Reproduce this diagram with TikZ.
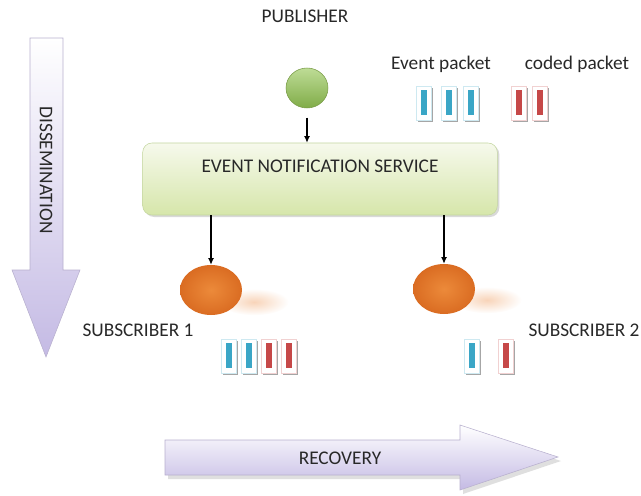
\documentclass[tikz,border=0pt]{standalone}
\usepackage{fontspec}
\setmainfont{Carlito}
\usetikzlibrary{positioning,shapes.geometric,shadows,arrows.meta}
\definecolor{lav}{RGB}{196,186,228}
\definecolor{lavline}{RGB}{184,176,206}
\definecolor{textgray}{RGB}{40,40,40}
\definecolor{pubtop}{RGB}{190,220,150}
\definecolor{pubbot}{RGB}{128,172,72}
\definecolor{publine}{RGB}{120,155,70}
\definecolor{orgin}{RGB}{236,138,58}
\definecolor{orgout}{RGB}{218,108,34}
\definecolor{peach}{RGB}{248,212,185}
\definecolor{enstop}{RGB}{246,249,236}
\definecolor{ensbot}{RGB}{214,230,170}
\definecolor{ensline}{RGB}{196,214,160}
\definecolor{pktblue}{RGB}{58,166,198}
\definecolor{pktred}{RGB}{198,72,72}
\tikzset{
  txt/.style={font=\fontsize{14.5}{17}\selectfont, text=textgray, inner sep=0pt},
  pubnode/.style={ellipse, minimum width=31.5pt, minimum height=30pt, top color=pubtop, bottom color=pubbot, draw=publine},
  subnode/.style={ellipse, minimum width=46.5pt, minimum height=37.5pt, shading=radial, inner color=orgin, outer color=orgout},
  shade blob/.style={shading=radial, inner color=peach, outer color=white},
  ensbox/.style={rectangle, rounded corners=7pt, minimum width=266pt, minimum height=54pt, top color=enstop, bottom color=ensbot, draw=ensline,
    drop shadow={shadow xshift=1.5pt, shadow yshift=-1.5pt, opacity=0.3}},
  packet/.style={rectangle, minimum width=11.25pt, minimum height=25.5pt, inner sep=0pt, fill=white, draw=#1!25,
    drop shadow={shadow xshift=1pt, shadow yshift=-1.5pt, fill=gray!70, opacity=1},
    path picture={\fill[#1] ([xshift=-2pt,yshift=-9pt]path picture bounding box.center) rectangle ([xshift=2pt,yshift=10pt]path picture bounding box.center);}},
  arr/.style={-{Latex[length=5pt,width=4.5pt]}, line width=0.8pt, black},
}
\begin{document}
\begin{tikzpicture}[x=0.75pt, y=-0.75pt]
  \useasboundingbox (0,0) rectangle (641,495);
  % Big arrows
  \draw[lavline, top color=white, bottom color=lav] (30,38) -- (63,38) -- (63,270) -- (80,270) -- (46,357) -- (12,270) -- (30,270) -- cycle;
  \node[txt, rotate=-90] (dissem) at (46,170) {DISSEMINATION};
  \fill[gray!25] (168,444) -- (463,444) -- (463,429) -- (561,461) -- (463,494) -- (463,479) -- (168,479) -- cycle;
  \draw[lavline, top color=white, bottom color=lav] (165,440) -- (460,440) -- (460,425) -- (558,457) -- (460,490) -- (460,475) -- (165,475) -- cycle;
  \node[txt] (recov) at (340,458) {RECOVERY};
  % Shadows of the subscribers
  \shade[shade blob] (254,302) ellipse [x radius=26pt, y radius=10pt];
  \shade[shade blob] (487,300) ellipse [x radius=26pt, y radius=10pt];
  % Nodes
  \node[txt] (publabel) at (305,16) {PUBLISHER};
  \node[pubnode] (pub) at (307,88) {};
  \node[ensbox] (ens) at (320,179) {};
  \node[txt] (enstext) at (320,166) {EVENT NOTIFICATION SERVICE};
  \node[subnode] (sub1) at (211,290) {};
  \node[subnode] (sub2) at (444,289) {};
  \node[txt] (sub1label) at (138,330) {SUBSCRIBER 1};
  \node[txt] (sub2label) at (584,330) {SUBSCRIBER 2};
  \node[txt] (evlabel) at (441,64) {Event packet};
  \node[txt] (cdlabel) at (577,64) {coded packet};
  % Packets
  \node[packet=pktblue] (e1) at (424,103) {};
  \node[packet=pktblue] (e2) at (449,103) {};
  \node[packet=pktblue] (e3) at (471,103) {};
  \node[packet=pktred] (c1) at (519,103) {};
  \node[packet=pktred] (c2) at (540,103) {};
  \node[packet=pktblue] (s1a) at (229,356) {};
  \node[packet=pktblue] (s1b) at (249,356) {};
  \node[packet=pktred] (s1c) at (269,356) {};
  \node[packet=pktred] (s1d) at (289,356) {};
  \node[packet=pktblue] (s2a) at (472,356) {};
  \node[packet=pktred] (s2b) at (506,356) {};
  % Paths
  \draw[arr, shorten <=7pt] (pub.south) -- (pub.south |- ens.north);
  \draw[arr] (ens.south -| sub1.north) -- (sub1.north);
  \draw[arr] (ens.south -| sub2.north) -- (sub2.north);
\end{tikzpicture}
\end{document}
